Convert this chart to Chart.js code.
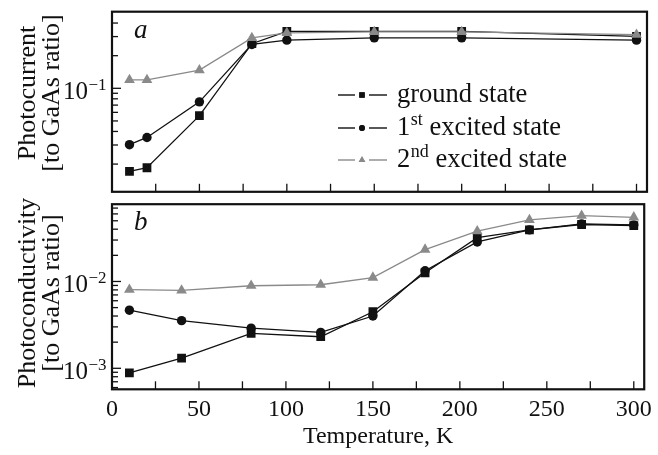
<!DOCTYPE html>
<html>
<head>
<meta charset="utf-8">
<script src="https://cdn.jsdelivr.net/npm/chart.js@4/dist/chart.umd.min.js"></script>
<style>
  html, body { margin: 0; padding: 0; background: #fff; }
  #wrap { position: relative; width: 658px; height: 455px; overflow: hidden; }
  canvas { position: absolute; left: 0; }
  #photocurrent { top: 0; }
  #photoconductivity { top: 198px; }
</style>
</head>
<body>
<div id="wrap">
  <canvas id="photocurrent" width="658" height="198"></canvas>
  <canvas id="photoconductivity" width="658" height="257"></canvas>
</div>
<script>
// ---- data: panel a (photocurrent) ----
const tempsA = [10, 20, 50, 80, 100, 150, 200, 300];
const currentGround = [0.0171, 0.0185, 0.0559, 0.258, 0.335, 0.335, 0.335, 0.302];
const currentFirst  = [0.0302, 0.0352, 0.0750, 0.254, 0.278, 0.292, 0.292, 0.278];
const currentSecond = [0.1195, 0.1195, 0.147, 0.292, 0.324, 0.331, 0.331, 0.313];

// ---- data: panel b (photoconductivity) ----
const tempsB = [10, 40, 80, 120, 150, 180, 210, 240, 270, 300];
const condGround = [0.000885, 0.00131, 0.00252, 0.00231, 0.00448, 0.0126, 0.0319, 0.0393, 0.0453, 0.0441];
const condFirst  = [0.00467, 0.00354, 0.00290, 0.00259, 0.00400, 0.0133, 0.0285, 0.0393, 0.0460, 0.0448];
const condSecond = [0.00804, 0.00790, 0.00893, 0.00917, 0.0111, 0.0233, 0.0380, 0.0511, 0.0573, 0.0548];

// ---- axis ticks ----
const tempTicks = [0, 25, 50, 75, 100, 125, 150, 175, 200, 225, 250, 275, 300];
const tempLabels = [0, 50, 100, 150, 200, 250, 300];
const currentTicks = [0.02, 0.03, 0.04, 0.05, 0.06, 0.07, 0.08, 0.09, 0.1, 0.2, 0.3, 0.4];
const currentDecades = [0.1];
const condTicks = [0.0006, 0.0007, 0.0008, 0.0009, 0.001, 0.002, 0.003, 0.004, 0.005, 0.006, 0.007, 0.008, 0.009,
                   0.01, 0.02, 0.03, 0.04, 0.05, 0.06, 0.07];
const condDecades = [0.01, 0.001];

const seriesNames = ['ground state', '1st excited state', '2nd excited state'];

const SERIF = '"Liberation Serif", "DejaVu Serif", serif';
const BLACK = '#111111';
const GREY = '#8a8a8a';
Chart.defaults.font.family = SERIF;
Chart.defaults.color = '#111';

function seriesStyle(i) {
  const styles = [
    { color: BLACK, pointStyle: 'rect', radius: 6.2 },
    { color: BLACK, pointStyle: 'circle', radius: 4.7 },
    { color: GREY, pointStyle: 'triangle', radius: 6.2 }
  ];
  return styles[i];
}

function makeDataset(i, xs, ys) {
  const s = seriesStyle(i);
  return {
    label: seriesNames[i],
    data: xs.map((x, k) => ({ x: x, y: ys[k] })),
    borderColor: s.color,
    backgroundColor: s.color,
    borderWidth: 1.3,
    pointStyle: s.pointStyle,
    pointRadius: s.radius,
    pointBorderWidth: 0,
    pointBackgroundColor: s.color,
    tension: 0,
    order: 3 - i
  };
}

// frame, inward tick marks, power-of-ten labels, axis title and panel letter
const panelDecor = {
  id: 'panelDecor',
  beforeDatasetsDraw(chart) {
    const { ctx, chartArea: a } = chart;
    const xs = chart.scales.x, ys = chart.scales.y;
    ctx.save();
    ctx.strokeStyle = '#111';
    ctx.lineWidth = 1.3;
    xs.ticks.forEach(t => {
      const px = xs.getPixelForValue(t.value);
      ctx.beginPath(); ctx.moveTo(px, a.bottom); ctx.lineTo(px, a.bottom - 8); ctx.stroke();
    });
    const decades = chart.options.plugins.panelDecor.decades;
    ys.ticks.forEach(t => {
      const py = ys.getPixelForValue(t.value);
      const len = decades.some(d => Math.abs(d - t.value) < d * 1e-6) ? 9 : 6;
      ctx.beginPath(); ctx.moveTo(a.left, py); ctx.lineTo(a.left + len, py); ctx.stroke();
    });
    ctx.restore();
  },
  afterDraw(chart) {
    const { ctx, chartArea: a } = chart;
    const ys = chart.scales.y;
    const opts = chart.options.plugins.panelDecor;
    ctx.save();
    ctx.strokeStyle = '#111';
    ctx.lineWidth = 2.2;
    ctx.strokeRect(a.left, a.top, a.right - a.left, a.bottom - a.top);

    ctx.fillStyle = '#111';
    ctx.textAlign = 'left';
    ctx.textBaseline = 'alphabetic';
    opts.decades.forEach(d => {
      const py = ys.getPixelForValue(d);
      const exp = Math.round(Math.log10(d));
      const base = '10';
      const sup = (exp < 0 ? '\u2212' : '') + Math.abs(exp);
      ctx.font = '25px ' + SERIF;
      const wb = ctx.measureText(base).width;
      ctx.font = '17px ' + SERIF;
      const ws = ctx.measureText(sup).width;
      const x0 = a.left - 6 - ws - wb;
      ctx.font = '25px ' + SERIF;
      ctx.fillText(base, x0, py + 11);
      ctx.font = '17px ' + SERIF;
      ctx.fillText(sup, x0 + wb + 0.5, py + 2);
    });

    // two-line rotated axis title
    ctx.font = '26px ' + SERIF;
    ctx.textAlign = 'center';
    ctx.textBaseline = 'alphabetic';
    opts.title.forEach((line, k) => {
      ctx.save();
      ctx.translate(opts.titleBaselines[k], opts.titleCenter);
      ctx.rotate(-Math.PI / 2);
      ctx.fillText(line, 0, 0);
      ctx.restore();
    });

    ctx.textAlign = 'left';
    ctx.font = 'italic 27px ' + SERIF;
    ctx.fillText(opts.letter, a.left + 22, a.top + 26);
    ctx.restore();
  }
};

// legend with superscript ordinals
const stateLegend = {
  id: 'stateLegend',
  afterDraw(chart) {
    const opts = chart.options.plugins.stateLegend;
    if (!opts || !opts.show) return;
    const { ctx } = chart;
    const rows = [95, 128, 160];
    const parts = [['ground state'], ['1', 'st', ' excited state'], ['2', 'nd', ' excited state']];
    ctx.save();
    chart.data.datasets.forEach((ds, i) => {
      const y = rows[i];
      const s = seriesStyle(i);
      ctx.strokeStyle = s.color;
      ctx.fillStyle = s.color;
      ctx.lineWidth = 1.4;
      ctx.beginPath(); ctx.moveTo(338, y); ctx.lineTo(355, y); ctx.stroke();
      ctx.beginPath(); ctx.moveTo(369, y); ctx.lineTo(387, y); ctx.stroke();
      Chart.helpers.drawPoint(ctx, { pointStyle: s.pointStyle, radius: s.radius * 0.62, borderWidth: 0 }, 362, y);
      ctx.fill();
      ctx.fillStyle = '#111';
      ctx.textBaseline = 'alphabetic';
      ctx.textAlign = 'left';
      let x = 397;
      const p = parts[i];
      ctx.font = '26.5px ' + SERIF;
      ctx.fillText(p[0], x, y + 7);
      x += ctx.measureText(p[0]).width;
      if (p.length > 1) {
        ctx.font = '18px ' + SERIF;
        ctx.fillText(p[1], x + 0.5, y - 3);
        x += ctx.measureText(p[1]).width + 0.5;
        ctx.font = '26.5px ' + SERIF;
        ctx.fillText(p[2], x, y + 7);
      }
    });
    ctx.restore();
  }
};

function baseOptions(cfg) {
  return {
    responsive: false,
    animation: false,
    devicePixelRatio: 1,
    layout: { padding: cfg.padding },
    plugins: {
      legend: { display: false },
      tooltip: { enabled: false },
      panelDecor: {
        decades: cfg.decades, letter: cfg.letter, title: cfg.yTitle,
        titleBaselines: [35, 59], titleCenter: cfg.titleCenter
      },
      stateLegend: { show: cfg.showLegend }
    },
    scales: {
      x: {
        type: 'linear',
        min: 0,
        max: 306,
        grid: { display: false, drawTicks: false },
        border: { display: false },
        afterBuildTicks: s => { s.ticks = tempTicks.map(v => ({ value: v })); },
        afterFit: s => { s.height = cfg.xHeight; },
        ticks: {
          display: cfg.showX,
          autoSkip: false,
          maxRotation: 0,
          padding: 6,
          color: '#111',
          font: { size: 24, family: SERIF },
          callback: v => (tempLabels.includes(v) ? String(v) : '')
        },
        title: {
          display: cfg.showX,
          text: 'Temperature, K',
          color: '#111',
          font: { size: 24, family: SERIF },
          padding: { top: 0, bottom: 3.6 }
        }
      },
      y: {
        type: 'logarithmic',
        min: cfg.yMin,
        max: cfg.yMax,
        grid: { display: false, drawTicks: false },
        border: { display: false },
        afterBuildTicks: s => { s.ticks = cfg.yTicks.map(v => ({ value: v })); },
        afterFit: s => { s.width = 112; },
        ticks: { display: false },
        title: { display: false }
      }
    }
  };
}

new Chart(document.getElementById('photocurrent'), {
  type: 'line',
  data: {
    datasets: [
      makeDataset(0, tempsA, currentGround),
      makeDataset(1, tempsA, currentFirst),
      makeDataset(2, tempsA, currentSecond)
    ]
  },
  options: baseOptions({
    padding: { left: 0, right: 11, top: 11.7, bottom: 3.7 },
    xHeight: 0,
    showX: false,
    yMin: 0.0111,
    yMax: 0.509,
    yTicks: currentTicks,
    decades: currentDecades,
    yTitle: ['Photocurrent', '[to GaAs ratio]'],
    titleCenter: 93,
    letter: 'a',
    showLegend: true
  }),
  plugins: [panelDecor, stateLegend]
});

new Chart(document.getElementById('photoconductivity'), {
  type: 'line',
  data: {
    datasets: [
      makeDataset(0, tempsB, condGround),
      makeDataset(1, tempsB, condFirst),
      makeDataset(2, tempsB, condSecond)
    ]
  },
  options: baseOptions({
    padding: { left: 0, right: 11, top: 3.7, bottom: 0 },
    xHeight: 65.7,
    showX: true,
    yMin: 0.000573,
    yMax: 0.0776,
    yTicks: condTicks,
    decades: condDecades,
    yTitle: ['Photoconductivity', '[to GaAs ratio]'],
    titleCenter: 95,
    letter: 'b',
    showLegend: false
  }),
  plugins: [panelDecor]
});
</script>
</body>
</html>
